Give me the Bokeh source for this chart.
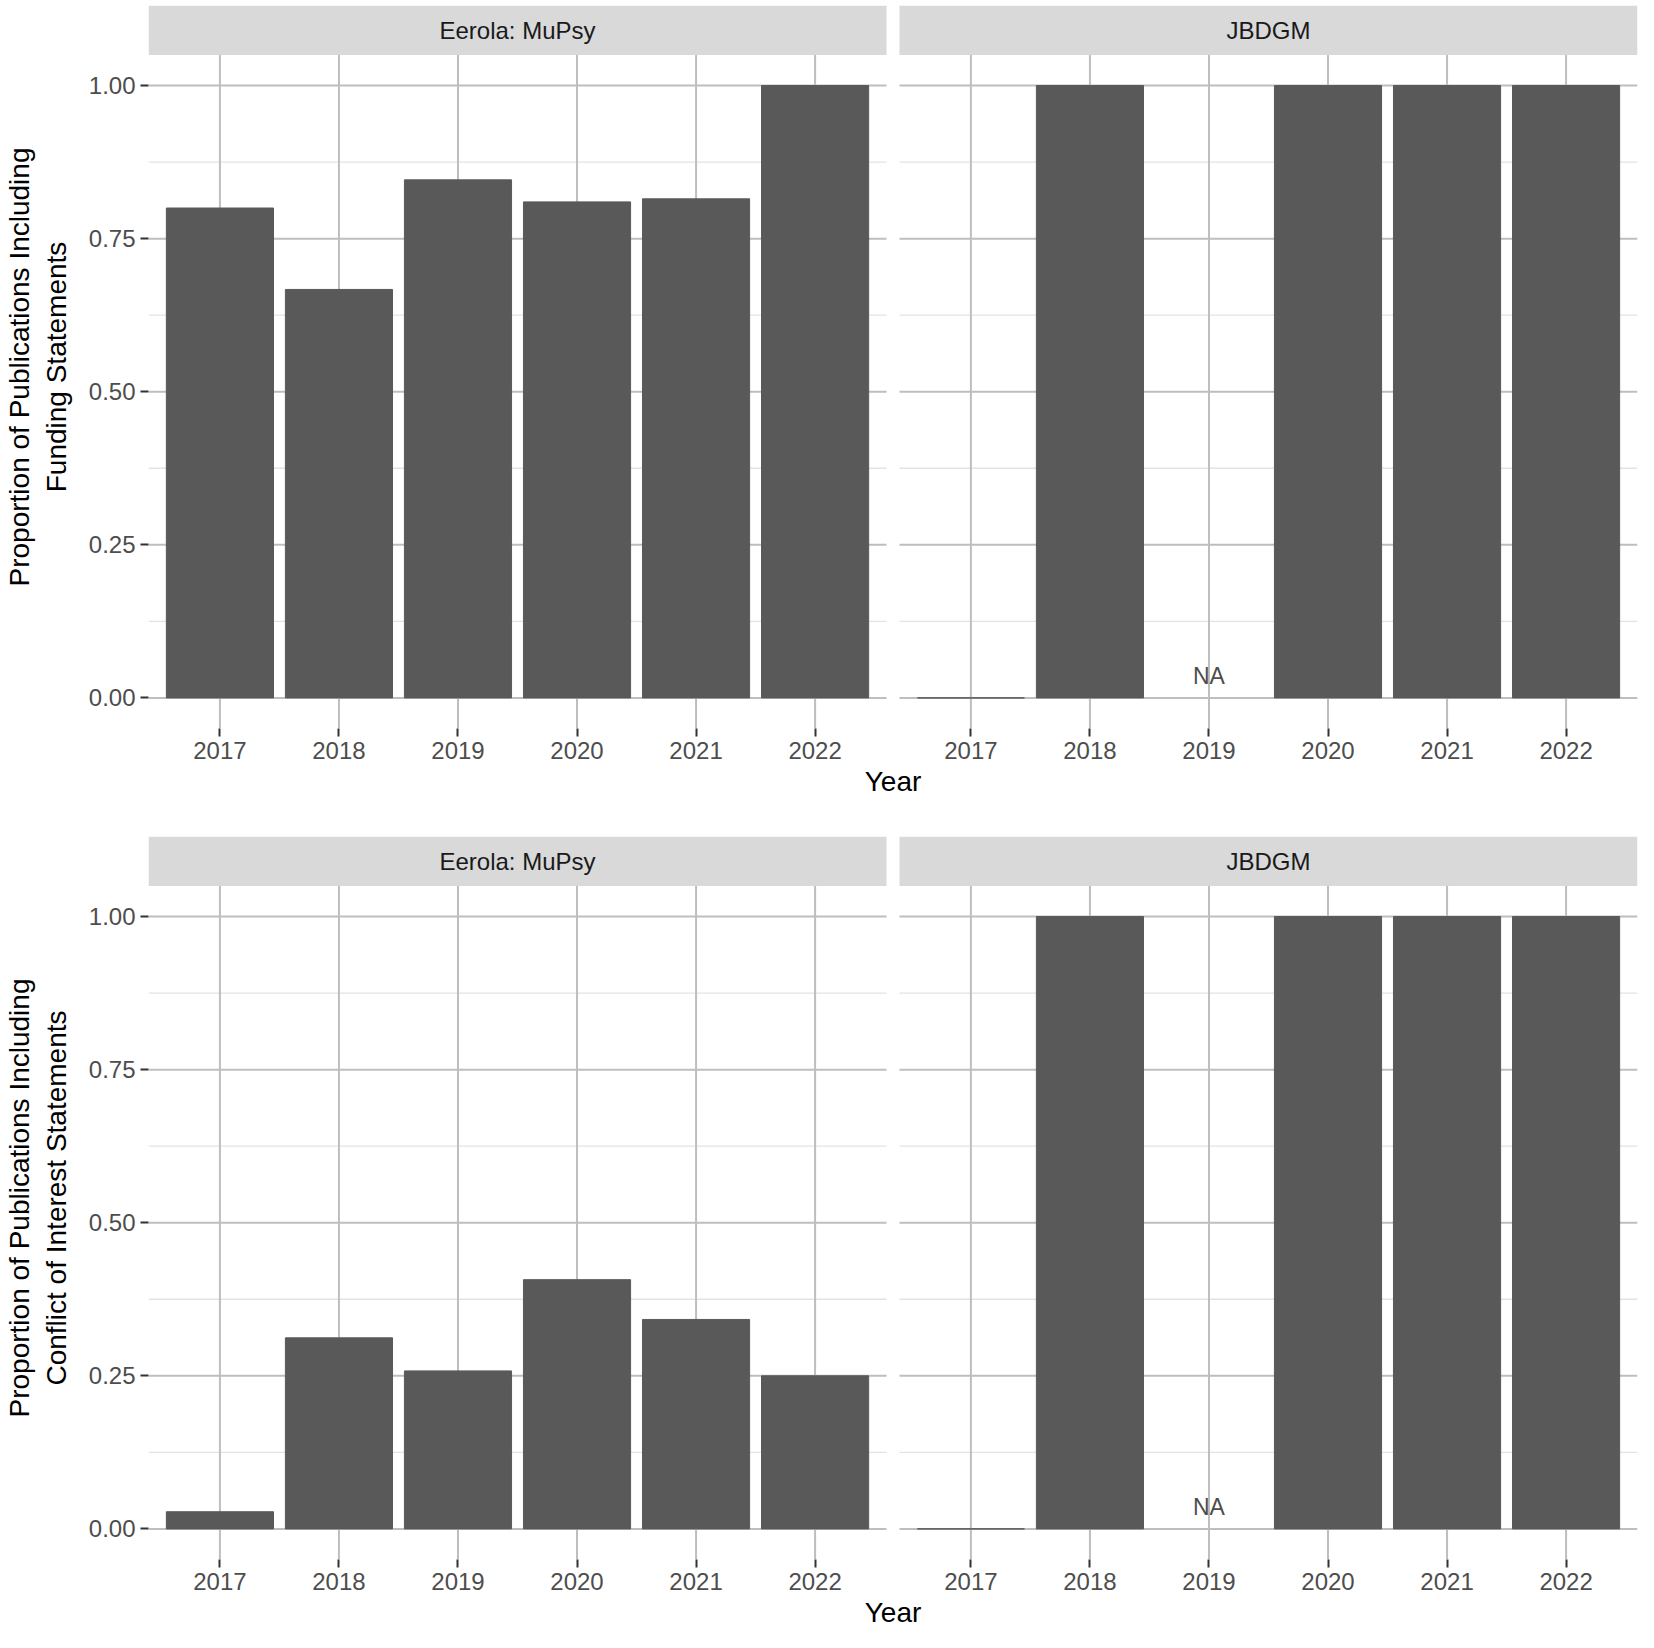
from bokeh.plotting import figure
from bokeh.layouts import column
from bokeh.models import FixedTicker, Label
from bokeh.embed import file_html
from bokeh.resources import INLINE

years = ["2017", "2018", "2019", "2020", "2021", "2022"]
facets = ["Eerola: MuPsy", "JBDGM"]
funding_mupsy = [0.80, 0.667, 0.846, 0.81, 0.815, 1.0]
funding_jbdgm = [0.0, 1.0, None, 1.0, 1.0, 1.0]
coi_mupsy = [0.028, 0.312, 0.258, 0.407, 0.342, 0.25]
coi_jbdgm = [0.0, 1.0, None, 1.0, 1.0, 1.0]
y_ticks = [0.0, 0.25, 0.5, 0.75, 1.0]

n = len(years)
PW = n + 0.2          # panel width in x units
GAP = 0.109
OFF = PW + GAP
YTOP = 1.0 + 80 / 612.0
STRIP_LO = 1.05
MAJ = "#BEBEBE"
MINOR = "#E3E3E3"
TXT = "#4D4D4D"
XPX = 1496 / (PW + OFF)   # px per x unit

def make_row(tag, ylabel, series, height, bottom):
    p = figure(width=1638, height=height, output_backend="svg", toolbar_location=None,
               x_range=(0.4, 0.4 + PW + OFF), y_range=(-0.05, YTOP),
               min_border_left=141, min_border_right=1, min_border_top=5, min_border_bottom=bottom)
    p.xgrid.visible = False
    p.ygrid.visible = False
    p.outline_line_color = None
    for k, vals in enumerate(series):
        off = k * OFF
        x0, x1 = 0.4 + off, 0.4 + off + PW
        mins = [t + 0.125 for t in y_ticks[:-1]]
        p.segment(x0=[x0]*len(mins), x1=[x1]*len(mins), y0=mins, y1=mins, line_color=MINOR, line_width=1.3)
        p.segment(x0=[x0]*len(y_ticks), x1=[x1]*len(y_ticks), y0=y_ticks, y1=y_ticks, line_color=MAJ, line_width=2)
        xs = [i + 1 + off for i in range(n)]
        p.segment(x0=xs, x1=xs, y0=[-0.05]*n, y1=[STRIP_LO]*n, line_color=MAJ, line_width=2)
        bx = [xs[i] for i in range(n) if vals[i] is not None]
        bt = [vals[i] for i in range(n) if vals[i] is not None]
        p.vbar(x=bx, top=bt, bottom=0, width=0.9, fill_color="#595959", line_color="#595959", line_width=1)
        na = [xs[i] for i in range(n) if vals[i] is None]
        if na:
            p.text(x=na, y=[0.035]*len(na), text=["NA"]*len(na), text_align="center",
                   text_baseline="middle", text_font_size="23px", text_color=TXT)
        p.quad(left=[x0], right=[x1], bottom=[STRIP_LO], top=[YTOP], fill_color="#D9D9D9", line_color=None)
        p.text(x=[off + (n + 1) / 2], y=[(STRIP_LO + YTOP) / 2], text=[facets[k]], text_align="center",
               text_baseline="middle", text_font_size="24px", text_color="#1A1A1A")
    ticks = [i + 1 + k * OFF for k in range(2) for i in range(n)]
    p.xaxis.ticker = FixedTicker(ticks=ticks)
    p.xaxis.major_label_overrides = {t: years[i % n] for i, t in enumerate(ticks)}
    p.xaxis.minor_tick_line_color = None
    p.xaxis.axis_line_color = None
    p.xaxis.major_tick_out = 8
    p.xaxis.major_tick_in = 0
    p.xaxis.major_tick_line_color = "#333333"
    p.xaxis.major_tick_line_width = 2
    p.xaxis.major_label_text_font_size = "24px"
    p.xaxis.major_label_text_color = TXT
    p.xaxis.axis_label = "Year"
    p.xaxis.axis_label_text_font_size = "28px"
    p.xaxis.axis_label_text_font_style = "normal"
    p.xaxis.axis_label_text_color = "#000000"
    p.xaxis.axis_label_standoff = 4
    p.yaxis.ticker = FixedTicker(ticks=y_ticks)
    p.yaxis.major_label_overrides = {t: f"{t:.2f}" for t in y_ticks}
    p.yaxis.minor_tick_line_color = None
    p.yaxis.axis_line_color = None
    p.yaxis.major_tick_out = 8
    p.yaxis.major_tick_in = 0
    p.yaxis.major_tick_line_color = "#333333"
    p.yaxis.major_tick_line_width = 2
    p.yaxis.major_label_text_font_size = "24px"
    p.yaxis.major_label_text_color = TXT
    p.yaxis.axis_label = ylabel
    p.yaxis.axis_label_text_font_size = "28px"
    p.yaxis.axis_label_text_font_style = "normal"
    p.yaxis.axis_label_text_color = "#000000"
    p.yaxis.axis_label_standoff = 14
    p.add_layout(Label(x=0.4 - 133 / XPX, y=YTOP - 12 / 612.0, text=tag, text_font_size="22px",
                       text_color="#333333", text_baseline="middle"))
    return p

pa = make_row("(a)", "Proportion of Publications Including\nFunding Statements",
              [funding_mupsy, funding_jbdgm], 831, 103)
pb = make_row("(b)", "Proportion of Publications Including\nConflict of Interest Statements",
              [coi_mupsy, coi_jbdgm], 800, 72)
layout = column(pa, pb, spacing=0)
open("out.html", "w").write(file_html(layout, INLINE))
